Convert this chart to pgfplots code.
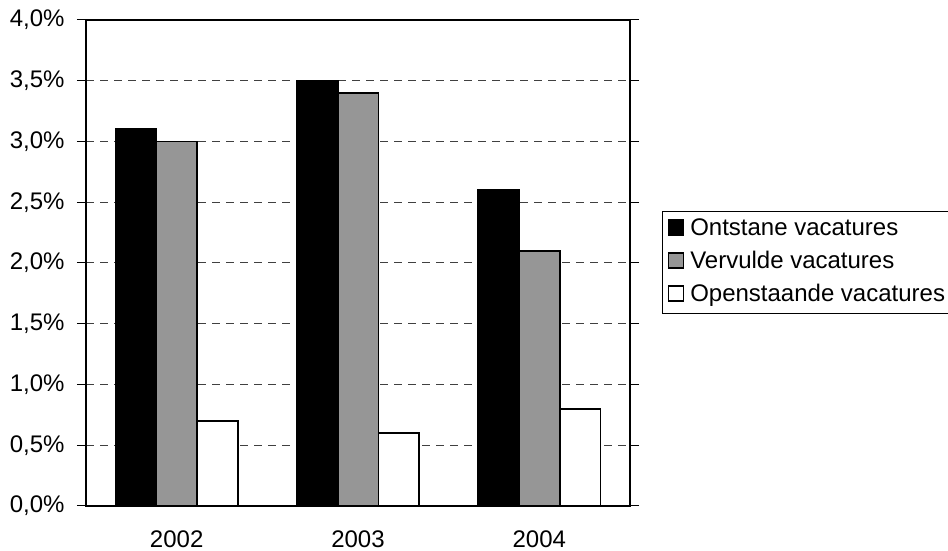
\documentclass[border=0pt]{standalone}
\usepackage{fontspec}
\setmainfont{Liberation Sans}
\usepackage{pgfplots}
\pgfplotsset{compat=1.18}
\definecolor{bargray}{HTML}{969696}

\begin{document}
\begin{tikzpicture}
\useasboundingbox (0,0) rectangle (948pt,551pt);
\begin{axis}[
    at={(86pt,45pt)}, anchor=south west,
    scale only axis, width=544pt, height=486pt,
    xmin=-0.5, xmax=2.5, ymin=0, ymax=4,
    xtick={0,1,2}, xticklabels={2002,2003,2004},
    xtick style={draw=none},
    minor xtick={-0.5,0.5,1.5,2.5},
    ytick={0,0.5,1,1.5,2,2.5,3,3.5,4},
    yticklabels={{0,0\%},{0,5\%},{1,0\%},{1,5\%},{2,0\%},{2,5\%},{3,0\%},{3,5\%},{4,0\%}},
    tick align=outside,
    major tick length=9pt, minor tick length=7pt,
    tick style={black, line width=1pt},
    ticklabel style={font=\fontsize{24}{28}\selectfont},
    yticklabel style={xshift=-9pt},
    xticklabel style={yshift=-12pt},
    axis line style={line width=2pt},
    ymajorgrids,
    grid style={black!75, line width=1pt, dash pattern=on 8pt off 6pt},
    bar width=0.225,
    legend style={at={(1,0.5)}, anchor=west, xshift=32pt,
        draw=black, line width=1pt, inner sep=5pt,
        font=\fontsize{24}{28}\selectfont, row sep=7pt,
        nodes={inner sep=2pt, text height=17pt, text depth=5pt}},
    legend cell align=left,
    legend image code/.code={
        \draw[#1, line width=1.5pt] (0pt,-5pt) rectangle (15pt,10pt);
        \path[draw=none, fill=none] (0pt,0pt) -- (20pt,0pt);},
]
\addplot[ybar, bar shift=-0.225, fill=black, draw=black, line width=1.8pt]
    coordinates {(0,3.1) (1,3.5) (2,2.6)};
\addplot[ybar, bar shift=0, fill=bargray, draw=black, line width=1.8pt]
    coordinates {(0,3.0) (1,3.4) (2,2.1)};
\addplot[ybar, bar shift=0.225, fill=white, draw=black, line width=1.8pt]
    coordinates {(0,0.7) (1,0.6) (2,0.8)};
\legend{Ontstane vacatures, Vervulde vacatures, Openstaande vacatures}
\end{axis}
\end{tikzpicture}
\end{document}
